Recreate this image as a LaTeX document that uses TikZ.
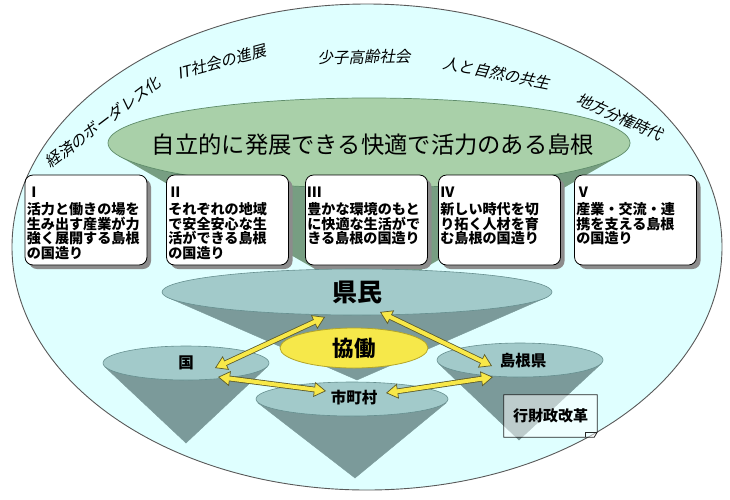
\documentclass[tikz,border=0pt]{standalone}
\usepackage{fontspec}
\setmainfont{Noto Sans CJK JP}
\newfontfamily\jp{Noto Sans CJK JP}
\newfontfamily\jpit[FakeSlant=0.2]{Noto Sans CJK JP}
\usetikzlibrary{shapes.geometric,arrows.meta,shadows}
\definecolor{bgcyan}{HTML}{DFFFFF}
\definecolor{glight}{HTML}{A9D0A9}
\definecolor{gdark}{HTML}{779E82}
\definecolor{gedge}{HTML}{5E8C6A}
\definecolor{tlight}{HTML}{A2CACA}
\definecolor{tdark}{HTML}{7B9A9A}
\definecolor{tedge}{HTML}{668F8F}
\definecolor{yel}{HTML}{F6E84A}
\definecolor{yeledge}{HTML}{B3A52A}
\definecolor{arrowyel}{HTML}{F8E848}
\definecolor{arrowedge}{HTML}{5C5A2A}
\tikzset{
  conebody/.style={fill=tdark, draw=tdark, line width=0.4pt},
  conetop/.style={ellipse, fill=tlight, draw=tedge, line width=0.6pt, inner sep=0pt},
  stepbox/.style={rectangle, rounded corners=8pt, draw=black, line width=0.8pt, fill=white,
    minimum width=122pt, minimum height=90pt,
    drop shadow={shadow xshift=4pt, shadow yshift=-4pt, fill=black!45, opacity=1}},
  boxtxt/.style={anchor=north west, align=left, inner sep=0pt,
    font=\jp\bfseries\fontsize{14.1}{14.5}\selectfont},
  arctxt/.style={font=\jpit\fontsize{15.5}{16}\selectfont, inner sep=0pt},
  lbl/.style={font=\jp\bfseries\fontsize{15.5}{16}\selectfont, inner sep=0pt},
  dblout/.style={line width=5.6pt, draw=arrowedge,
    {Triangle[length=12pt,width=15pt,line width=0.7pt,fill=arrowyel]}-{Triangle[length=12pt,width=15pt,line width=0.7pt,fill=arrowyel]}},
  dblin/.style={line width=4pt, draw=arrowyel, shorten <=10.5pt, shorten >=10.5pt},
}
\begin{document}
\begin{tikzpicture}[x=1pt,y=-1pt]
\useasboundingbox (0,0) rectangle (730,499);
% outer ellipse
\draw[fill=bgcyan, draw=black!65, line width=0.9pt] (367,247) ellipse [x radius=355, y radius=243];
% arc texts
\node[arctxt, rotate=37] (t1) at (103,122) {経済のボーダレス化};
\node[arctxt, rotate=15] (t2) at (222,62) {IT社会の進展};
\node[arctxt, rotate=1] (t3) at (364,57) {少子高齢社会};
\node[arctxt, rotate=-11] (t4) at (497,73) {人と自然の共生};
\node[arctxt, rotate=-24] (t5) at (620,117) {地方分権時代};
% green cone
\fill[gdark] (119,156) -- (369,300) -- (619,156) -- cycle;
\node[ellipse, fill=glight, draw=gedge, line width=0.7pt, inner sep=0pt,
  minimum width=522pt, minimum height=90pt] (goal) at (369,143) {};
\node[font=\jp\fontsize{23.3}{24}\selectfont, inner sep=0pt] (goaltxt) at (373,145) {自立的に発展できる快適で活力のある島根};
% five boxes
\node[stepbox] (b1) at (86,220) {};
\node[stepbox] (b2) at (227.5,220) {};
\node[stepbox] (b3) at (366.5,220) {};
\node[stepbox] (b4) at (499.5,220) {};
\node[stepbox] (b5) at (635.5,220) {};
\node[boxtxt] (x1) at ([xshift=2pt,yshift=-12pt]b1.north west) {Ⅰ\\[3pt]活力と働きの場を\\生み出す産業が力\\強く展開する島根\\の国造り};
\node[boxtxt] (x2) at ([xshift=2pt,yshift=-12pt]b2.north west) {Ⅱ\\[3pt]それぞれの地域\\で安全安心な生\\活ができる島根\\の国造り};
\node[boxtxt] (x3) at ([xshift=2pt,yshift=-12pt]b3.north west) {Ⅲ\\[3pt]豊かな環境のもと\\に快適な生活がで\\きる島根の国造り};
\node[boxtxt] (x4) at ([xshift=2pt,yshift=-12pt]b4.north west) {Ⅳ\\[3pt]新しい時代を切\\り拓く人材を育\\む島根の国造り};
\node[boxtxt] (x5) at ([xshift=2pt,yshift=-12pt]b5.north west) {Ⅴ\\[3pt]産業・交流・連\\携を支える島根\\の国造り};
% kenmin cone
\fill[conebody] (169,298) -- (357,380) -- (545,298) -- cycle;
\node[conetop, minimum width=390pt, minimum height=46pt,
  font=\jp\bfseries\fontsize{25}{26}\selectfont] (kenmin) at (357,292) {県民};
% kyodo
\node[ellipse, fill=yel, draw=yeledge, line width=0.8pt, inner sep=0pt,
  minimum width=148pt, minimum height=40pt,
  font=\jp\bfseries\fontsize{21.5}{22}\selectfont] (kyodo) at (354,348) {協働};
% kuni cone
\fill[conebody] (105,367) -- (186,443) -- (267,367) -- cycle;
\node[conetop, minimum width=166pt, minimum height=34pt] (kuni) at (186,363) {};
% shimane cone
\fill[conebody] (439,364) -- (519,440) -- (601,364) -- cycle;
\node[conetop, minimum width=166pt, minimum height=34pt] (ken) at (520,360) {};
% shichoson cone
\fill[conebody] (258,403) -- (355,478) -- (446,403) -- cycle;
\node[conetop, minimum width=192pt, minimum height=34pt] (shi) at (352,399) {};
% labels
\node[lbl] (lkuni) at (186,363) {国};
\node[lbl] (lken) at (523,361) {島根県};
\node[lbl] (lshi) at (354,398) {市町村};
% arrow end points
\coordinate (a1s) at (215,368); \coordinate (a1e) at (325,317);
\coordinate (a2s) at (380,312); \coordinate (a2e) at (492,366);
\coordinate (a3s) at (218,377); \coordinate (a3e) at (326,391);
\coordinate (a4s) at (386,393); \coordinate (a4e) at (493,377);
\draw[dblout] (a1s) -- (a1e); \draw[dblin] (a1s) -- (a1e);
\draw[dblout] (a2s) -- (a2e); \draw[dblin] (a2s) -- (a2e);
\draw[dblout] (a3s) -- (a3e); \draw[dblin] (a3s) -- (a3e);
\draw[dblout] (a4s) -- (a4e); \draw[dblin] (a4s) -- (a4e);
% reform note
\node[fill=white, fill opacity=0.5, text opacity=1, inner sep=0pt,
  minimum width=93pt, minimum height=42pt,
  font=\jp\bfseries\fontsize{15}{16}\selectfont] (gyo) at (550.5,416) {行財政改革};
\draw[black!85, line width=0.8pt] (gyo.south west) -- (gyo.north west) -- (gyo.north east)
  -- ([yshift=5pt]gyo.south east) -- ([xshift=-3pt]gyo.south east) -- cycle;
\draw[black!85, line width=0.6pt] ([xshift=-12pt]gyo.south east) -- ([xshift=-12pt,yshift=5pt]gyo.south east) -- ([yshift=5pt]gyo.south east);
\end{tikzpicture}
\end{document}
